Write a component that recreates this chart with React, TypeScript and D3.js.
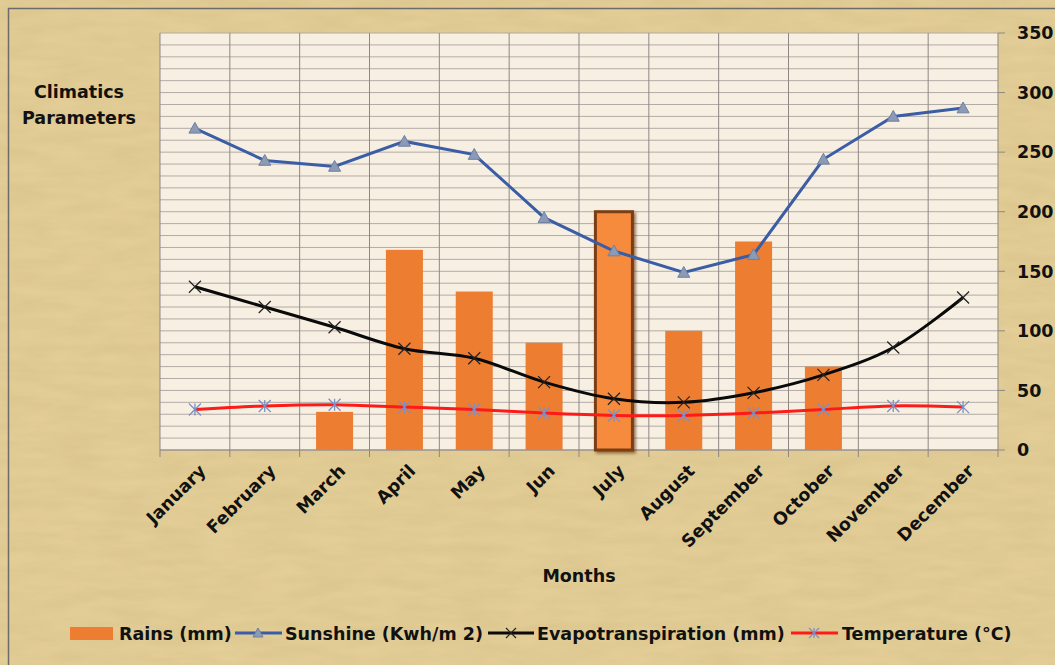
import React from "react";
import * as d3 from "d3";

const months = ["January","February","March","April","May","Jun","July","August","September","October","November","December"];
const rains = [0, 0, 32, 168, 133, 90, 200, 100, 175, 70, 0, 0];
const sunshine = [270, 243, 238, 259, 248, 195, 167, 149, 164, 244, 280, 287];
const evapo = [137, 120, 103, 85, 77, 57, 43, 40, 48, 63, 86, 128];
const temperature = [34, 37, 38, 36, 34, 31, 29, 29, 31, 34, 37, 36];
const yTicks = [0, 50, 100, 150, 200, 250, 300, 350];
const highlightMonth = "July";

const W = 1055, H = 665;
const L = 160, R = 998, T = 33, B = 450;

export default function App() {
  const x = d3.scaleBand<string>().domain(months).range([L, R]).paddingInner(0).paddingOuter(0);
  const y = d3.scaleLinear().domain([0, 350]).range([B, T]);
  const cx = (m: string) => (x(m) as number) + x.bandwidth() / 2;
  const barW = x.bandwidth() * 0.53;
  const mkLine = (vals: number[], curve: d3.CurveFactory) =>
    d3.line<number>().x((_, i) => cx(months[i])).y((v) => y(v)).curve(curve)(vals) || "";
  const smooth = d3.curveCatmullRom.alpha(0.5);
  const minor = d3.range(0, 351, 10);
  const font = "'DejaVu Sans', sans-serif";
  const fs = 17.5;

  const tri = (px: number, py: number, s = 6) =>
    `M${px},${py - s} L${px + s},${py + s * 0.8} L${px - s},${py + s * 0.8} Z`;
  const xMark = (px: number, py: number, s = 6) =>
    `M${px - s},${py - s} L${px + s},${py + s} M${px - s},${py + s} L${px + s},${py - s}`;
  const star = (px: number, py: number, s = 6) =>
    `M${px - s},${py - s} L${px + s},${py + s} M${px - s},${py + s} L${px + s},${py - s} M${px},${py - s} L${px},${py + s}`;

  return (
    <svg width={W} height={H} viewBox={`0 0 ${W} ${H}`} style={{ position: "absolute", left: 0, top: 0, fontFamily: font }}>
      <defs>
        <filter id="paper" x="0" y="0" width="100%" height="100%">
          <feTurbulence type="fractalNoise" baseFrequency="0.02 0.09" numOctaves="3" seed="3" result="n" />
          <feColorMatrix in="n" type="matrix" values="0 0 0 0 0.55  0 0 0 0 0.42  0 0 0 0 0.15  0 0 0 0.35 0" result="c" />
          <feComposite in="c" in2="SourceGraphic" operator="over" />
        </filter>
        <filter id="shadow" x="-20%" y="-5%" width="140%" height="110%">
          <feDropShadow dx="2" dy="2" stdDeviation="1.5" floodColor="#5a2a00" floodOpacity="0.6" />
        </filter>
      </defs>
      <rect x={0} y={0} width={W} height={H} fill="#e6d09a" />
      <rect x={0} y={0} width={W} height={H} fill="#e6d09a" filter="url(#paper)" opacity={0.9} />
      <rect x={8.5} y={8.5} width={W + 10} height={H + 10} fill="none" stroke="#6b6b6b" strokeWidth={1.5} />

      {/* plot area */}
      <rect x={L} y={T} width={R - L} height={B - T} fill="#f7f0e2" />
      {minor.map((v) => (
        <line key={"h" + v} x1={L} x2={R} y1={y(v)} y2={y(v)} stroke="#b3aaa6" strokeWidth={1} />
      ))}
      {months.map((m) => (
        <line key={"v" + m} x1={x(m)} x2={x(m)} y1={T} y2={B + 7} stroke="#8d8785" strokeWidth={1} />
      ))}
      <line x1={R} x2={R} y1={T} y2={B + 7} stroke="#8d8785" strokeWidth={1} />
      <line x1={L} x2={R} y1={B} y2={B} stroke="#8d8785" strokeWidth={1} />
      {yTicks.map((v) => (
        <line key={"t" + v} x1={R} x2={R + 7} y1={y(v)} y2={y(v)} stroke="#8d8785" strokeWidth={1} />
      ))}

      {/* bars */}
      {months.map((m, i) =>
        rains[i] > 0 ? (
          m === highlightMonth ? (
            <rect key={"b" + m} x={cx(m) - barW / 2} y={y(rains[i])} width={barW} height={B - y(rains[i])}
              fill="#f68b3c" stroke="#7a3e12" strokeWidth={3} filter="url(#shadow)" />
          ) : (
            <rect key={"b" + m} x={cx(m) - barW / 2} y={y(rains[i])} width={barW} height={B - y(rains[i])} fill="#ec7d31" />
          )
        ) : null
      )}

      {/* lines */}
      <path d={mkLine(temperature, smooth)} fill="none" stroke="#ff1a1a" strokeWidth={3} />
      <path d={mkLine(evapo, smooth)} fill="none" stroke="#0a0a0a" strokeWidth={3} />
      <path d={mkLine(sunshine, d3.curveLinear)} fill="none" stroke="#3a5da6" strokeWidth={3} />

      {/* markers */}
      {temperature.map((v, i) => (
        <path key={"tm" + i} d={star(cx(months[i]), y(v))} stroke="#7d90c4" strokeWidth={1.3} fill="none" />
      ))}
      {evapo.map((v, i) => (
        <path key={"em" + i} d={xMark(cx(months[i]), y(v))} stroke="#222" strokeWidth={1.2} fill="none" />
      ))}
      {sunshine.map((v, i) => (
        <path key={"sm" + i} d={tri(cx(months[i]), y(v))} fill="#8c9bb5" stroke="#6d7fa3" strokeWidth={1} />
      ))}

      {/* right axis labels */}
      {yTicks.map((v) => (
        <text key={"yl" + v} x={1017} y={y(v)} dy="0.36em" fontSize={fs} fontWeight={700} fill="#111">{v}</text>
      ))}

      {/* x labels */}
      {months.map((m) => (
        <text key={"xl" + m} transform={`translate(${cx(m) + 12},${B + 22}) rotate(-45)`} textAnchor="end"
          fontSize={fs} fontWeight={700} fill="#111">{m}</text>
      ))}

      <text x={579} y={582} textAnchor="middle" fontSize={fs} fontWeight={700} fill="#111">Months</text>
      <text x={79} y={98} textAnchor="middle" fontSize={fs} fontWeight={700} fill="#111">Climatics</text>
      <text x={79} y={124} textAnchor="middle" fontSize={fs} fontWeight={700} fill="#111">Parameters</text>

      {/* legend */}
      <g fontSize={fs} fontWeight={700} fill="#111">
        <rect x={70} y={627} width={43} height={13} fill="#ec7d31" />
        <text x={119} y={640}>Rains (mm)</text>
        <line x1={235} x2={282} y1={633} y2={633} stroke="#3a5da6" strokeWidth={3} />
        <path d={tri(258, 633, 5)} fill="#8c9bb5" stroke="#6d7fa3" strokeWidth={1} />
        <text x={285} y={640}>Sunshine (Kwh/m 2)</text>
        <line x1={488} x2={534} y1={633} y2={633} stroke="#0a0a0a" strokeWidth={3} />
        <path d={xMark(511, 633, 5)} stroke="#222" strokeWidth={1.2} fill="none" />
        <text x={537} y={640}>Evapotranspiration (mm)</text>
        <line x1={791} x2={838} y1={633} y2={633} stroke="#ff1a1a" strokeWidth={3} />
        <path d={star(814, 633, 5)} stroke="#7d90c4" strokeWidth={1.3} fill="none" />
        <text x={842} y={640}>Temperature (°C)</text>
      </g>
    </svg>
  );
}
